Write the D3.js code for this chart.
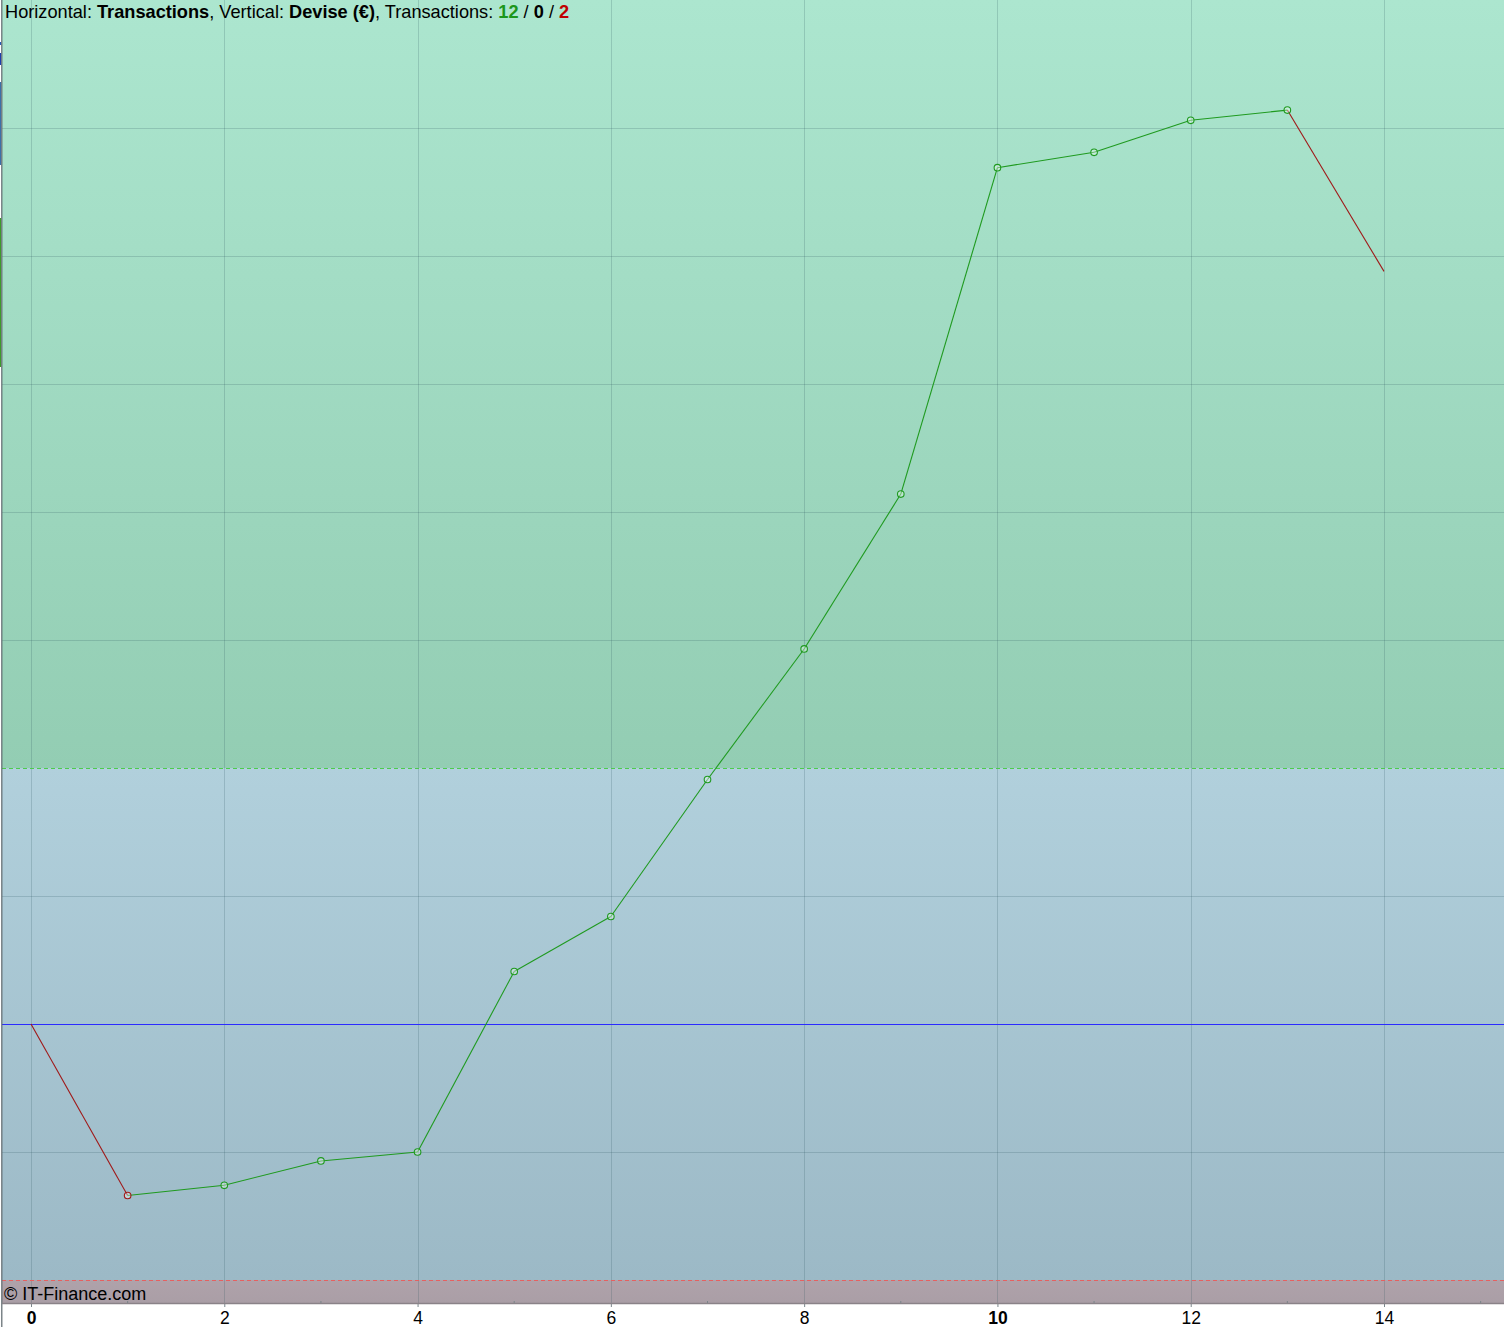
<!DOCTYPE html>
<html>
<head>
<meta charset="utf-8">
<script src="https://cdn.jsdelivr.net/npm/d3@7"></script>
<style>
  body { margin:0; background:#fff; }
  svg { display:block; font-family:"Liberation Sans", Arial, sans-serif; }
</style>
</head>
<body>
<svg></svg>
<script>
// data (y in €, grid step = 100)
var transactions = [0,1,2,3,4,5,6,7,8,9,10,11,12,13,14];
var balance = [0,-134,-126,-107,-100,41,84,191,293,414,669,681,706,714,588];
var xTicks = [0,2,4,6,8,10,12,14];
var yGrid = [-200,-100,0,100,200,300,400,500,600,700];
var upperLevel = 200;
var lowerLevel = -200;
var counts = [12,0,2];

var screen = { width:1504, height:1327 };
var svg = d3.select("svg")
  .attr("width",screen.width)
  .attr("height",screen.height);

var plot = { left:2, right:1504, top:0, bottom:1303 };

//scales
var xScale = d3.scaleLinear()
  .domain([0,14])
  .range([31,1384]);
var yScale = d3.scaleLinear()
  .domain([0,800])
  .range([1024,0]);

var yTop = yScale.invert(plot.top);
var yBottom = yScale.invert(plot.bottom);

// gradients for the zones
var defs = svg.append("defs");
function grad(id, c1, c2)
{
  var g = defs.append("linearGradient").attr("id",id)
    .attr("x1",0).attr("y1",0).attr("x2",0).attr("y2",1);
  g.append("stop").attr("offset","0%").attr("stop-color",c1);
  g.append("stop").attr("offset","100%").attr("stop-color",c2);
}
grad("gGreen","#ace6cf","#93cdb3");
grad("gBlue","#b1d0dc","#9cb9c6");
grad("gMauve","#afa2aa","#aa9ea6");

var zones = [
  { from:yTop, to:upperLevel, fill:"url(#gGreen)" },
  { from:upperLevel, to:lowerLevel, fill:"url(#gBlue)" },
  { from:lowerLevel, to:yBottom, fill:"url(#gMauve)" }
];

svg.append("g").selectAll("rect")
  .data(zones)
  .enter()
  .append("rect")
  .attr("x",plot.left)
  .attr("width",plot.right-plot.left)
  .attr("y",function(d){return yScale(d.from);})
  .attr("height",function(d){return yScale(d.to)-yScale(d.from);})
  .attr("fill",function(d){return d.fill;});

// grid
var grid = svg.append("g").attr("stroke","rgba(40,80,90,0.2)").attr("stroke-width",1);
grid.selectAll("line.v")
  .data(xTicks)
  .enter()
  .append("line")
  .attr("x1",function(d){return Math.round(xScale(d))+0.5;})
  .attr("x2",function(d){return Math.round(xScale(d))+0.5;})
  .attr("y1",plot.top)
  .attr("y2",plot.bottom);
grid.selectAll("line.h")
  .data(yGrid.filter(function(d){return d!==0 && d!==upperLevel && d!==lowerLevel;}))
  .enter()
  .append("line")
  .attr("x1",plot.left)
  .attr("x2",plot.right)
  .attr("y1",function(d){return Math.round(yScale(d))+0.5;})
  .attr("y2",function(d){return Math.round(yScale(d))+0.5;});

// level lines
svg.append("line")
  .attr("x1",plot.left).attr("x2",plot.right)
  .attr("y1",Math.round(yScale(upperLevel))+0.5).attr("y2",Math.round(yScale(upperLevel))+0.5)
  .attr("stroke","#4ccc4c").attr("stroke-dasharray","4,3");
svg.append("line")
  .attr("x1",plot.left).attr("x2",plot.right)
  .attr("y1",Math.round(yScale(lowerLevel))+0.5).attr("y2",Math.round(yScale(lowerLevel))+0.5)
  .attr("stroke","#e66060").attr("stroke-dasharray","4,3");
svg.append("line")
  .attr("x1",plot.left).attr("x2",plot.right)
  .attr("y1",Math.round(yScale(0))+0.5).attr("y2",Math.round(yScale(0))+0.5)
  .attr("stroke","#2b2bff");

// segments coloured by direction
var segs = d3.range(1,transactions.length).map(function(i){
  return { x1:transactions[i-1], y1:balance[i-1], x2:transactions[i], y2:balance[i],
           up: balance[i] >= balance[i-1] };
});
var upColor = "#1f9a1f", downColor = "#a01818";

svg.append("g").selectAll("line")
  .data(segs)
  .enter()
  .append("line")
  .attr("x1",function(d){return xScale(d.x1);})
  .attr("y1",function(d){return yScale(d.y1);})
  .attr("x2",function(d){return xScale(d.x2);})
  .attr("y2",function(d){return yScale(d.y2);})
  .attr("stroke",function(d){return d.up ? upColor : downColor;})
  .attr("stroke-width",1.1);

svg.append("g").selectAll("circle")
  .data(segs.slice(0,segs.length-1))
  .enter()
  .append("circle")
  .attr("cx",function(d){return xScale(d.x2);})
  .attr("cy",function(d){return yScale(d.y2);})
  .attr("r",3.3)
  .attr("fill","rgba(255,255,255,0.35)")
  .attr("stroke",function(d){return d.up ? upColor : downColor;})
  .attr("stroke-width",1.1);

// left edge strip
var strip = [
  { y0:42, y1:45, c:"#2a5bb8" },
  { y0:53, y1:65, c:"#1f3fae" },
  { y0:82, y1:165, c:"#3d6fa8" },
  { y0:218, y1:367, c:"#3d9a2a" }
];
svg.append("g").selectAll("rect")
  .data(strip)
  .enter()
  .append("rect")
  .attr("x",0).attr("width",1.2)
  .attr("y",function(d){return d.y0;})
  .attr("height",function(d){return d.y1-d.y0;})
  .attr("fill",function(d){return d.c;});
svg.append("line")
  .attr("x1",1.8).attr("x2",1.8)
  .attr("y1",0).attr("y2",screen.height)
  .attr("stroke","#5c676c").attr("stroke-width",1.2);

// x axis
var xAxis = d3.axisBottom(xScale)
  .tickValues(xTicks)
  .tickSize(4)
  .tickPadding(5)
  .tickFormat(d3.format("d"));
var ax = svg.append("g")
  .attr("transform","translate(0,"+plot.bottom+")")
  .call(xAxis);
ax.select(".domain").remove();
ax.selectAll(".tick line").attr("stroke","#7a858a");
ax.selectAll(".tick text")
  .attr("font-size",17.5)
  .attr("fill","#000")
  .attr("font-family","'Liberation Sans', Arial, sans-serif")
  .attr("font-weight",function(d){return (d%10===0) ? "bold" : "normal";});
svg.append("line")
  .attr("x1",plot.left).attr("x2",plot.right)
  .attr("y1",plot.bottom+0.5).attr("y2",plot.bottom+0.5)
  .attr("stroke","#8a8288").attr("stroke-width",1.5);
// minor ticks at odd values, pointing up
svg.append("g").selectAll("line")
  .data(d3.range(1,16,2))
  .enter()
  .append("line")
  .attr("x1",function(d){return xScale(d);})
  .attr("x2",function(d){return xScale(d);})
  .attr("y1",plot.bottom-2)
  .attr("y2",plot.bottom)
  .attr("stroke","#7a858a");

// header
var header = svg.append("text")
  .attr("x",5).attr("y",18)
  .attr("font-size",18.2)
  .attr("fill","#000");
header.append("tspan").text("Horizontal: ");
header.append("tspan").attr("font-weight","bold").text("Transactions");
header.append("tspan").text(", Vertical: ");
header.append("tspan").attr("font-weight","bold").text("Devise (€)");
header.append("tspan").text(", Transactions: ");
header.append("tspan").attr("font-weight","bold").attr("fill","#1c961c").text(counts[0]);
header.append("tspan").text(" / ");
header.append("tspan").attr("font-weight","bold").text(counts[1]);
header.append("tspan").text(" / ");
header.append("tspan").attr("font-weight","bold").attr("fill","#c00000").text(counts[2]);

// watermark
svg.append("text")
  .attr("x",4).attr("y",1300)
  .attr("font-size",18)
  .attr("fill","#000")
  .text("© IT-Finance.com");
</script>
</body>
</html>
